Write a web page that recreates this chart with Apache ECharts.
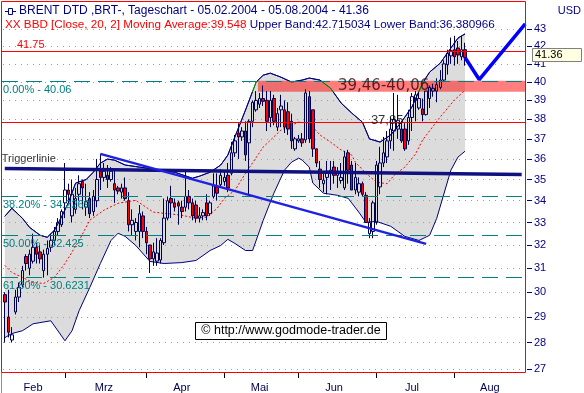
<!DOCTYPE html>
<html><head><meta charset="utf-8">
<script src="https://cdn.jsdelivr.net/npm/echarts@6/dist/echarts.min.js"></script>
<style>html,body{margin:0;padding:0;background:#fff}#c{width:584px;height:393px}</style>
</head><body><div id="c"></div>
<script>
// ---------- data ----------
const firstDay = [2004, 1, 5];          // 05.02.2004 (month 0-based)
const slotCount = 148;                  // trading-day slots on the axis (incl. empty future)
const monthNames = ['Feb','Mrz','Apr','Mai','Jun','Jul','Aug'];
const monthLabelIdx = [8, 28, 50, 72, 93, 115, 137];
const yTicks = [27,28,29,30,31,32,33,34,35,36,37,38,39,40,41,42,43];

// [open, close, low, high]
const ohlc = [
[29.9,29.6,28.0,30.0],[29.0,28.4,28.2,30.1],[28.1,28.3,28.0,28.6],[29.2,29.8,29.1,30.1],
[29.8,30.2,29.6,30.4],[30.3,30.9,30.2,31.1],[31.5,31.2,30.9,31.6],[31.0,31.6,30.7,31.8],
[31.3,31.9,31.2,32.5],[31.9,31.6,31.2,32.1],[31.7,31.4,31.2,32.0],[30.9,31.6,30.6,31.8],
[31.6,31.85,30.7,32.2],[31.9,32.2,31.7,32.5],[32.2,32.6,32.0,32.8],[32.6,33.0,32.4,33.2],
[32.9,33.5,32.8,33.6],[33.9,34.5,33.2,35.8],[34.5,34.3,33.9,34.8],[33.3,34.3,33.0,35.0],
[33.6,34.1,33.4,34.6],[34.3,34.8,34.0,35.2],[34.9,34.6,33.6,35.0],[33.7,33.95,33.3,34.8],
[34.1,33.4,33.2,34.4],[33.5,34.2,33.3,34.5],[34.0,35.0,33.7,36.0],[35.4,35.1,34.5,36.25],
[35.1,35.4,34.9,35.8],[35.2,35.0,34.6,35.7],[35.0,35.4,34.9,35.6],[34.8,34.5,33.9,35.5],
[34.6,34.45,34.3,34.7],
[34.4,34.6,34.1,34.8],[34.6,34.1,34.0,35.1],[34.0,32.9,32.6,34.4],[32.9,33.1,32.4,33.6],
[32.6,33.0,32.2,33.2],[32.6,33.4,31.9,33.8],[33.3,32.6,32.3,33.5],[32.6,32.1,31.6,32.8],
[32.0,31.4,30.8,32.0],[31.4,31.7,31.1,32.1],[31.3,31.65,31.1,32.3],[31.35,32.2,31.2,32.3],
[32.1,33.2,32.0,34.1],[33.2,34.0,33.1,34.2],[34.1,33.9,33.2,34.7],[33.9,33.7,33.5,34.1],
[33.9,33.75,32.9,34.0],[33.7,33.5,33.2,34.0],[33.7,34.2,33.5,35.4],[34.2,33.9,33.6,34.5],
[33.9,33.3,33.1,34.1],[33.8,33.2,33.0,34.0],[33.2,33.3,33.0,33.7],[33.3,33.45,33.1,33.6],
[33.9,33.3,33.1,34.3],[33.4,33.9,33.3,34.0],[34.2,34.7,34.1,35.3],[34.65,34.35,34.0,35.3],
[34.75,35.2,34.6,35.5],[34.9,35.1,34.7,35.4],[35.2,34.6,34.4,35.8],[35.3,36.3,35.2,36.85],
[36.3,36.9,36.1,37.2],[37.3,37.1,36.0,37.8],
[37.1,37.4,36.9,37.6],[37.4,36.2,35.9,37.9],[36.8,37.9,34.2,38.0],[37.9,38.9,37.6,39.0],
[38.5,39.0,38.4,39.5],[38.8,39.1,38.6,39.4],[39.1,38.95,38.7,39.8],[39.0,37.9,37.4,39.5],
[38.1,39.0,37.6,39.5],[39.1,37.9,37.7,39.3],[37.6,38.3,37.4,38.6],[38.5,38.7,37.6,39.3],
[38.5,37.6,37.3,39.0],[38.4,37.5,37.2,38.9],[37.9,36.9,36.5,38.3],[36.5,37.0,36.4,37.1],
[36.9,37.0,36.8,37.2],[37.0,36.8,36.6,37.3],[36.95,39.4,36.8,39.6],[39.2,37.0,36.8,39.5],
[38.5,36.5,36.1,38.5],[36.5,35.8,35.6,36.5],[35.5,35.0,34.6,35.9],[34.8,34.97,34.4,35.3],
[35.1,35.4,34.3,35.9],[35.3,35.45,34.5,35.9],[35.6,35.2,34.8,35.9],[35.2,35.4,34.6,35.6],
[34.95,35.1,34.8,35.8],[34.6,36.1,34.5,36.4],[36.3,35.45,34.8,36.45],[35.7,34.5,34.5,35.9],
[34.5,35.1,34.3,35.8],[34.4,34.8,34.2,35.1],[34.8,34.3,34.2,34.9],[34.25,33.0,33.0,34.4],
[32.5,33.0,32.3,33.2],[32.6,33.9,32.3,34.0],[33.0,35.7,32.9,35.9],[34.65,35.8,34.3,36.6],
[35.8,36.3,35.6,37.1],[36.1,36.9,35.8,37.4],[36.9,37.5,36.5,38.1],[37.4,38.0,36.4,39.4],
[37.5,37.95,37.0,39.3],[37.5,36.9,36.8,37.9],[37.5,36.5,36.4,37.8],[36.9,38.1,36.7,38.5],
[38.1,39.2,37.4,39.4],[39.0,39.3,37.9,39.5],[38.6,39.1,38.5,39.4],[38.55,38.25,37.9,39.1],
[38.25,39.5,38.2,39.5],[39.1,39.7,38.6,39.8],[39.5,39.65,39.2,39.9],[39.5,39.85,38.9,40.2],
[39.7,40.1,39.6,40.65],[40.1,41.0,40.0,41.2],[40.95,41.6,40.4,41.8],[41.45,41.75,41.0,42.5],
[41.8,41.4,40.9,42.6],[41.9,41.5,41.0,42.3],[41.4,41.8,41.2,42.6],[41.8,41.36,40.9,42.2]
];

// Bollinger band (20,2) and its moving average, [slot index, price]
const upperBand = [[0,33.28],[2,33.65],[5,33.19],[7,32.78],[10,32.43],[12,32.34],[14,32.65],[16,33.24],
[18,33.92],[20,34.83],[23,35.0],[25,35.35],[27,35.79],[29,35.99],[31,35.94],[34,35.70],[38,35.60],
[44,35.45],[48,35.35],[53,35.06],[55,35.16],[58,35.35],[61,35.70],[63,36.19],[65,37.10],[68,38.49],
[71,39.99],[73,40.37],[75,40.48],[78,40.26],[81,39.99],[84,40.10],[86,40.21],[89,40.10],[92,39.66],
[95,38.86],[98,38.33],[101,37.86],[103,37.0],[106,36.84],[109,37.20],[112,37.86],[115,38.65],
[118,39.93],[120,40.54],[123,41.04],[125,41.61],[128,42.47],[130,42.715]];
const lowerBand = [[0,28.19],[2,28.35],[5,28.46],[8,28.73],[13,28.85],[17,28.07],[19,28.46],[21,29.25],
[24,30.19],[27,31.20],[30,32.20],[32,32.52],[34,32.38],[37,31.98],[41,31.29],[45,31.2],[50,31.24],
[54,31.33],[58,31.76],[61,31.98],[63,32.25],[65,32.07],[68,31.76],[70,31.76],[73,33.10],[76,34.35],
[79,35.45],[81,35.84],[83,36.04],[84,35.94],[86,35.60],[87,34.83],[90,34.35],[94,34.25],[97,34.11],
[100,33.47],[102,33.01],[105,33.05],[109,32.83],[113,32.38],[117,32.20],[120,32.43],[122,33.19],
[126,35.45],[128,36.09],[130,36.381]];
const movingAvg = [[0,31.12],[2,30.82],[5,30.61],[8,30.40],[11,30.36],[14,30.61],[17,31.20],[21,32.20],
[24,33.10],[28,33.56],[32,33.88],[37,34.02],[42,33.47],[45,33.42],[50,33.33],[54,33.19],[57,33.24],
[60,33.65],[62,34.11],[65,34.49],[68,35.30],[73,36.59],[78,37.45],[83,37.86],[86,37.81],[89,37.20],
[92,36.84],[95,36.44],[98,36.19],[99,35.84],[102,35.30],[105,34.87],[108,34.80],[110,35.21],
[113,35.60],[116,36.24],[118,36.94],[123,38.13],[127,39.02],[130,39.548]];

const redLevels = [41.75, 37.85];
const fibLevels = [40.06, 34.2269, 32.425, 30.6231];
const fibNames = ['0.00%', '38.20%', '50.00%', '61.80%'];
const zone = {low: 39.46, high: 40.06, start: 72};
const triggerLine = [[0,35.53],[146,35.24]];
const trendLine = [[27,36.25],[119,32.05]];
const projection = [[130,41.36],[134,40.13],[147,43.3]];
const notes = [
  {idx: 108, price: 37.85, text: '37,85'},
  {idx: 107, price: 39.76, text: '39,46-40,06'}
];
const titleInfo = {name:'BRENT DTD ,BRT-, Tageschart', from:'05.02.2004', to:'05.08.2004',
  ma:'39.548', upper:'42.715034', lower:'36.380966'};

// ---------- build ----------
const L = Math.log;
const pad = n => (n < 10 ? '0' : '') + n;
const cats = [];
const monthStart = {};
{
  const d = new Date(Date.UTC(firstDay[0], firstDay[1], firstDay[2]));
  let lastMonth = d.getUTCMonth();
  while (cats.length < slotCount) {
    const wd = d.getUTCDay();
    if (wd !== 0 && wd !== 6) {
      if (d.getUTCMonth() !== lastMonth) { monthStart[cats.length] = true; lastMonth = d.getUTCMonth(); }
      cats.push(pad(d.getUTCDate()) + '.' + pad(d.getUTCMonth() + 1) + '.' + d.getUTCFullYear());
    }
    d.setUTCDate(d.getUTCDate() + 1);
  }
}
const labelOf = {};
monthLabelIdx.forEach((i, k) => labelOf[i] = monthNames[k]);
const lastClose = ohlc[ohlc.length - 1][1];
const toLn = arr => arr.map(p => [p[0], L(p[1])]);
const FONT = '"Liberation Sans", Arial, sans-serif';

// horizontal level lines (values from the arrays above, styling here)
const levelValues = redLevels.concat(fibLevels);
const levelStyle = [
  {color: '#ff0000', dash: null, text: String(redLevels[0]), dx: 14, dy: -6.5},
  {color: '#ff0000', dash: null, text: null}
].concat(fibLevels.map((v, k) => ({color: '#008080', dash: [16, 8],
  text: fibNames[k] + ' - ' + v, dx: 0, dy: 8.5})));

const chart = echarts.init(document.getElementById('c'));
const option = {
  animation: false,
  backgroundColor: '#ffffff',
  grid: {left: 3, right: 57, top: 2, bottom: 20, show: false, containLabel: false, outerBoundsMode: 'none'},
  xAxis: {
    type: 'category', data: cats, boundaryGap: true,
    axisLine: {show: false},
    axisTick: {show: true, alignWithLabel: true, interval: i => !!monthStart[i], length: 5,
      lineStyle: {color: '#000000'}},
    axisLabel: {interval: i => !!labelOf[i], formatter: (v, i) => labelOf[i] || '',
      color: '#000050', fontSize: 11, fontFamily: FONT, margin: 9},
    splitLine: {show: false}
  },
  yAxis: {
    type: 'value', position: 'right', min: L(26.86), max: L(44.62),
    axisLine: {show: false},
    axisTick: {show: true, length: 5, customValues: yTicks.map(L), lineStyle: {color: '#000080'}},
    axisLabel: {customValues: yTicks.map(L), formatter: v => String(Math.round(Math.exp(v))),
      color: '#000080', fontSize: 11, fontFamily: FONT, margin: 7},
    splitLine: {show: true, lineStyle: {color: '#a0a0a0', width: 1, type: [1, 5]}}
  },
  visualMap: [{
    type: 'piecewise', show: false, seriesIndex: 2, dimension: 1,
    pieces: [{gte: L(zone.low), lte: L(zone.high), color: '#008000'}],
    outOfRange: {color: '#000080'}
  }],
  series: [
    { // Bollinger fill
      type: 'custom', z: -2, silent: true, data: [[0, L(30)]],
      renderItem: (params, api) => {
        const pts = upperBand.map(p => api.coord([p[0], L(p[1])]))
          .concat(lowerBand.slice().reverse().map(p => api.coord([p[0], L(p[1])])));
        return {type: 'polygon', shape: {points: pts}, style: {fill: '#dcdcdc'}};
      }
    },
    { // resistance zone
      type: 'custom', z: -1, silent: true, data: [[zone.start, L(zone.high)]],
      renderItem: (params, api) => {
        const a = api.coord([zone.start, L(zone.high)]);
        const b = api.coord([zone.start, L(zone.low)]);
        const cs = params.coordSys;
        const x0 = a[0] - api.size([1, 0])[0] / 2;
        return {type: 'rect', shape: {x: x0, y: a[1], width: cs.x + cs.width - 1 - x0, height: b[1] - a[1]},
          style: {fill: 'rgba(255,0,0,0.5)'}};
      }
    },
    {type: 'line', name: 'upper', data: toLn(upperBand), symbol: 'none', silent: true, z: 3,
      lineStyle: {width: 1}},
    {type: 'line', name: 'lower', data: toLn(lowerBand), symbol: 'none', silent: true, z: 3,
      lineStyle: {width: 1, color: '#000080'}, itemStyle: {color: '#000080'}},
    {type: 'line', name: 'ma', data: toLn(movingAvg), symbol: 'none', silent: true, z: 3,
      lineStyle: {width: 1, color: '#ff0000', type: [2, 2]}, itemStyle: {color: '#ff0000'}},
    {type: 'candlestick', name: 'BRENT', data: ohlc.map(r => r.map(L)), barWidth: 3, z: 4,
      silent: true,
      itemStyle: {color: 'rgba(0,0,0,0)', color0: '#ff0000', borderColor: '#000050',
        borderColor0: '#000050', borderWidth: 1}},
    { // level lines
      type: 'custom', z: 5, silent: true,
      data: levelValues.map(v => [0, L(v)]),
      renderItem: (params, api) => {
        const st = levelStyle[params.dataIndex];
        const cs = params.coordSys;
        const y = Math.round(api.coord([0, api.value(1)])[1]) + 0.5;
        const children = [{type: 'line', shape: {x1: cs.x - 1, y1: y, x2: cs.x + cs.width - 1, y2: y},
          style: {stroke: st.color, lineWidth: 1, lineDash: st.dash}}];
        if (st.text) children.push({type: 'text', x: cs.x + st.dx, y: y + st.dy,
          style: {text: st.text, fill: st.color, font: '11px ' + FONT, verticalAlign: 'middle'}});
        return {type: 'group', children};
      }
    },
    {type: 'line', name: 'trigger', data: toLn(triggerLine), symbol: 'none', silent: true, z: 6,
      lineStyle: {width: 3.5, color: '#101080'}, itemStyle: {color: '#101080'}},
    {type: 'line', name: 'trend', data: toLn(trendLine), symbol: 'none', silent: true, z: 6,
      lineStyle: {width: 2.5, color: '#2020e0'}, itemStyle: {color: '#2020e0'}},
    {type: 'line', name: 'projection', data: toLn(projection), symbol: 'none', silent: true, z: 6,
      lineStyle: {width: 3.5, color: '#0000ff'}, itemStyle: {color: '#0000ff'}},
    {type: 'scatter', name: 'notes', symbolSize: 0, silent: true, z: 7,
      data: [
        {value: [triggerLine[0][0], L(triggerLine[0][1])],
          label: {show: true, formatter: 'Triggerlinie', position: 'top', align: 'left',
            distance: 4, offset: [-3, 0], color: '#000000', fontSize: 11, fontFamily: FONT}},
        {value: [notes[0].idx, L(notes[0].price)],
          label: {show: true, formatter: notes[0].text, position: 'inside', offset: [0, -2],
            color: '#000000', fontSize: 13, fontFamily: FONT}},
        {value: [notes[1].idx, L(notes[1].price)],
          label: {show: true, formatter: notes[1].text, position: 'inside',
            color: '#3a0000', fontSize: 15, fontFamily: '"DejaVu Sans", sans-serif'}}
      ]}
  ]
};
chart.setOption(option);

const yBox = chart.convertToPixel({yAxisIndex: 0}, L(lastClose));
chart.setOption({
  graphic: [
    {type: 'rect', silent: true, z: 99, shape: {x: 527, y: 372.5, width: 57, height: 21},
      style: {fill: '#ffffff'}},
    {type: 'rect', silent: true, z: 100, shape: {x: 1.5, y: 1.5, width: 524, height: 371},
      style: {fill: null, stroke: '#ff0000', lineWidth: 1}},
    {type: 'line', silent: true, z: 100, shape: {x1: 1.5, y1: 373, x2: 1.5, y2: 393},
      style: {stroke: '#909090', lineWidth: 1}},
    {type: 'line', silent: true, z: 101, shape: {x1: 5, y1: 11.5, x2: 16, y2: 11.5},
      style: {stroke: '#000080', lineWidth: 1}},
    {type: 'rect', silent: true, z: 101, shape: {x: 8.5, y: 8.5, width: 4, height: 6},
      style: {fill: '#ffffff', stroke: '#000080', lineWidth: 1}},
    {type: 'text', silent: true, z: 101, x: 19, y: 11,
      style: {text: titleInfo.name + ' - ' + titleInfo.from + ' - ' + titleInfo.to + ' - ' + lastClose,
        fill: '#000080', font: '12px ' + FONT, verticalAlign: 'middle'}},
    {type: 'text', silent: true, z: 101, x: 5, y: 25,
      style: {text: '{r|XX BBD [Close, 20, 2] Moving Average:' + titleInfo.ma + '} {b|Upper Band:' +
        titleInfo.upper + ' Lower Band:' + titleInfo.lower + '}',
        font: '11.7px ' + FONT, verticalAlign: 'middle',
        rich: {r: {fill: '#ff0000', font: '11.7px ' + FONT}, b: {fill: '#000080', font: '11.7px ' + FONT}}}},
    {type: 'text', silent: true, z: 101, x: 581, y: 11,
      style: {text: 'USD', fill: '#000080', font: '11px ' + FONT, align: 'right', verticalAlign: 'middle'}},
    {type: 'rect', silent: true, z: 101, shape: {x: 532.5, y: Math.round(yBox) - 8.5, width: 49, height: 13},
      style: {fill: '#ffffe1', stroke: '#808080', lineWidth: 1}},
    {type: 'text', silent: true, z: 102, x: 535, y: Math.round(yBox) - 2,
      style: {text: String(lastClose), fill: '#000000', font: '11px ' + FONT, verticalAlign: 'middle'}},
    {type: 'rect', silent: true, z: 101, shape: {x: 195.5, y: 322.5, width: 191, height: 17},
      style: {fill: '#ffffff', stroke: '#000000', lineWidth: 1}},
    {type: 'text', silent: true, z: 102, x: 291, y: 331,
      style: {text: '\u00A9 http://www.godmode-trader.de', fill: '#000000', font: '12.5px ' + FONT,
        align: 'center', verticalAlign: 'middle'}}
  ]
});
</script></body></html>
